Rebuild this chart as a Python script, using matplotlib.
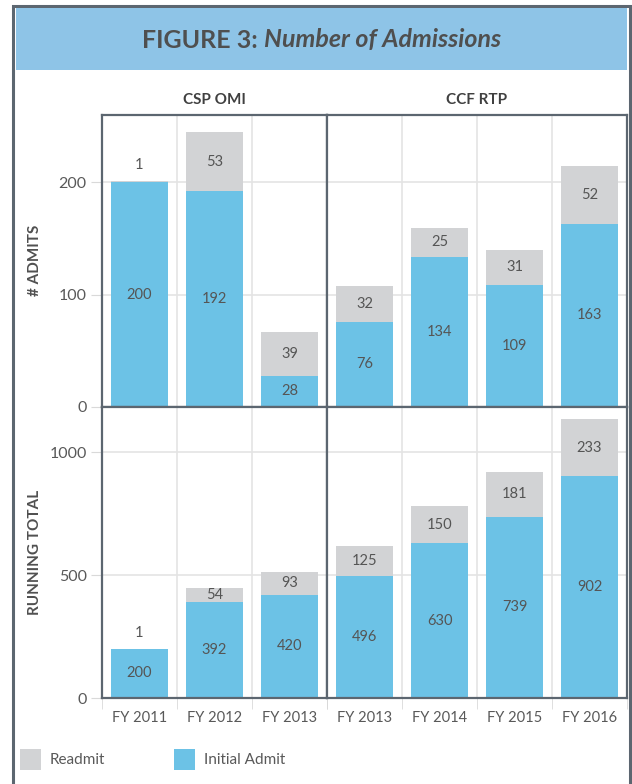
import matplotlib.pyplot as plt
from matplotlib.patches import Rectangle
import numpy as np

plt.rcParams['font.family'] = ['Lato', 'DejaVu Sans']

# data
groups = ["CSP OMI", "CCF RTP"]
csp_years = ["FY 2011", "FY 2012", "FY 2013"]
ccf_years = ["FY 2013", "FY 2014", "FY 2015", "FY 2016"]

csp_initial = [200, 192, 28]
csp_readmit = [1, 53, 39]
ccf_initial = [76, 134, 109, 163]
ccf_readmit = [32, 25, 31, 52]

csp_total_initial = [200, 392, 420]
csp_total_readmit = [1, 54, 93]
ccf_total_initial = [496, 630, 739, 902]
ccf_total_readmit = [125, 150, 181, 233]

blue = '#6cc2e6'
gray = '#d2d3d5'
frame = '#5c6670'
txt = '#555555'

W, H = 632, 784
fig = plt.figure(figsize=(W / 100, H / 100), dpi=100)


def box(x0, y0, x1, y1):
    # pixel box (top-left origin) -> figure rect
    return [x0 / W, 1 - y1 / H, (x1 - x0) / W, (y1 - y0) / H]


def rect(x0, y0, x1, y1, **kw):
    b = box(x0, y0, x1, y1)
    fig.add_artist(Rectangle((b[0], b[1]), b[2], b[3], transform=fig.transFigure, **kw))


# outer frame and title banner
rect(12.5, 5.5, 629.5, 800, fill=False, edgecolor=frame, linewidth=2.2)
rect(16, 8, 627, 70, facecolor='#8ec4e7', edgecolor='none')
t1 = fig.text(0, 1 - 40 / H, "FIGURE 3:", fontsize=18, fontweight='bold',
              color='#4f4f4f', ha='left', va='center')
t2 = fig.text(0, 1 - 40 / H, "Number of Admissions", fontsize=18, fontweight='bold',
              fontstyle='italic', color='#4f4f4f', ha='left', va='center')
r = fig.canvas.get_renderer()
w1 = t1.get_window_extent(r).width
w2 = t2.get_window_extent(r).width
gap = 7
x0 = 321.5 - (w1 + gap + w2) / 2
t1.set_x(x0 / W)
t2.set_x((x0 + w1 + gap) / W)

# column headers and row labels
fig.text(214 / W, 1 - 100 / H, groups[0], fontsize=11, fontweight='bold', color='#404040',
         ha='center', va='center')
fig.text(477 / W, 1 - 100 / H, groups[1], fontsize=11, fontweight='bold', color='#404040',
         ha='center', va='center')
fig.text(35 / W, 1 - 260 / H, "# ADMITS", fontsize=11, fontweight='bold', color='#505050',
         rotation=90, ha='center', va='center')
fig.text(35 / W, 1 - 552 / H, "RUNNING TOTAL", fontsize=11, fontweight='bold', color='#505050',
         rotation=90, ha='center', va='center')

panels = [
    (box(102, 115, 327, 407), csp_years, csp_initial, csp_readmit, 260, [0, 100, 200], True, False),
    (box(327, 115, 627, 407), ccf_years, ccf_initial, ccf_readmit, 260, [0, 100, 200], False, False),
    (box(102, 407, 327, 698), csp_years, csp_total_initial, csp_total_readmit, 1185, [0, 500, 1000], True, True),
    (box(327, 407, 627, 698), ccf_years, ccf_total_initial, ccf_total_readmit, 1185, [0, 500, 1000], False, True),
]

for pos, years, init, readm, ymax, yt, show_y, show_x in panels:
    ax = fig.add_axes(pos)
    x = np.arange(len(years))
    ax.bar(x, init, width=0.76, color=blue, zorder=2)
    ax.bar(x, readm, bottom=init, width=0.76, color=gray, zorder=2)
    ax.set_xlim(-0.5, len(years) - 0.5)
    ax.set_ylim(0, ymax)
    ax.set_axisbelow(True)

    ax.set_yticks(yt)
    ax.yaxis.grid(True, color='#e4e4e4', linewidth=1.2)
    ax.set_xticks(np.arange(len(years) + 1) - 0.5, minor=True)
    ax.xaxis.grid(True, which='minor', color='#e4e4e4', linewidth=1.2)

    if show_y:
        ax.tick_params(axis='y', length=8, color='#d9d9d9', labelsize=11.5,
                       labelcolor='#595959', pad=3)
    else:
        ax.tick_params(axis='y', length=0, labelleft=False)

    ax.set_xticks(x)
    if show_x:
        ax.set_xticklabels(years)
        ax.tick_params(axis='x', which='major', length=0, labelsize=10.5,
                       labelcolor='#595959', pad=9)
        ax.tick_params(axis='x', which='minor', length=8, color='#d9d9d9')
    else:
        ax.tick_params(axis='x', which='both', length=0, labelbottom=False)

    for s in ax.spines.values():
        s.set_color(frame)
        s.set_linewidth(1.6)

    for xi, a, rd in zip(x, init, readm):
        ax.text(xi, a / 2, str(a), ha='center', va='center', fontsize=10.5, color=txt, zorder=3)
        if rd < 0.03 * ymax:
            ax.text(xi, a + rd + 0.055 * ymax, str(rd), ha='center', va='center',
                    fontsize=10.5, color=txt, zorder=3)
        else:
            ax.text(xi, a + rd / 2, str(rd), ha='center', va='center', fontsize=10.5,
                    color=txt, zorder=3)

# legend
rect(20, 749, 41, 770, facecolor=gray, edgecolor='none')
fig.text(50 / W, 1 - 760 / H, "Readmit", fontsize=11, color='#595959', ha='left', va='center')
rect(174, 749, 195, 770, facecolor=blue, edgecolor='none')
fig.text(204 / W, 1 - 760 / H, "Initial Admit", fontsize=11, color='#595959', ha='left', va='center')

fig.savefig('out.png', dpi=100)
